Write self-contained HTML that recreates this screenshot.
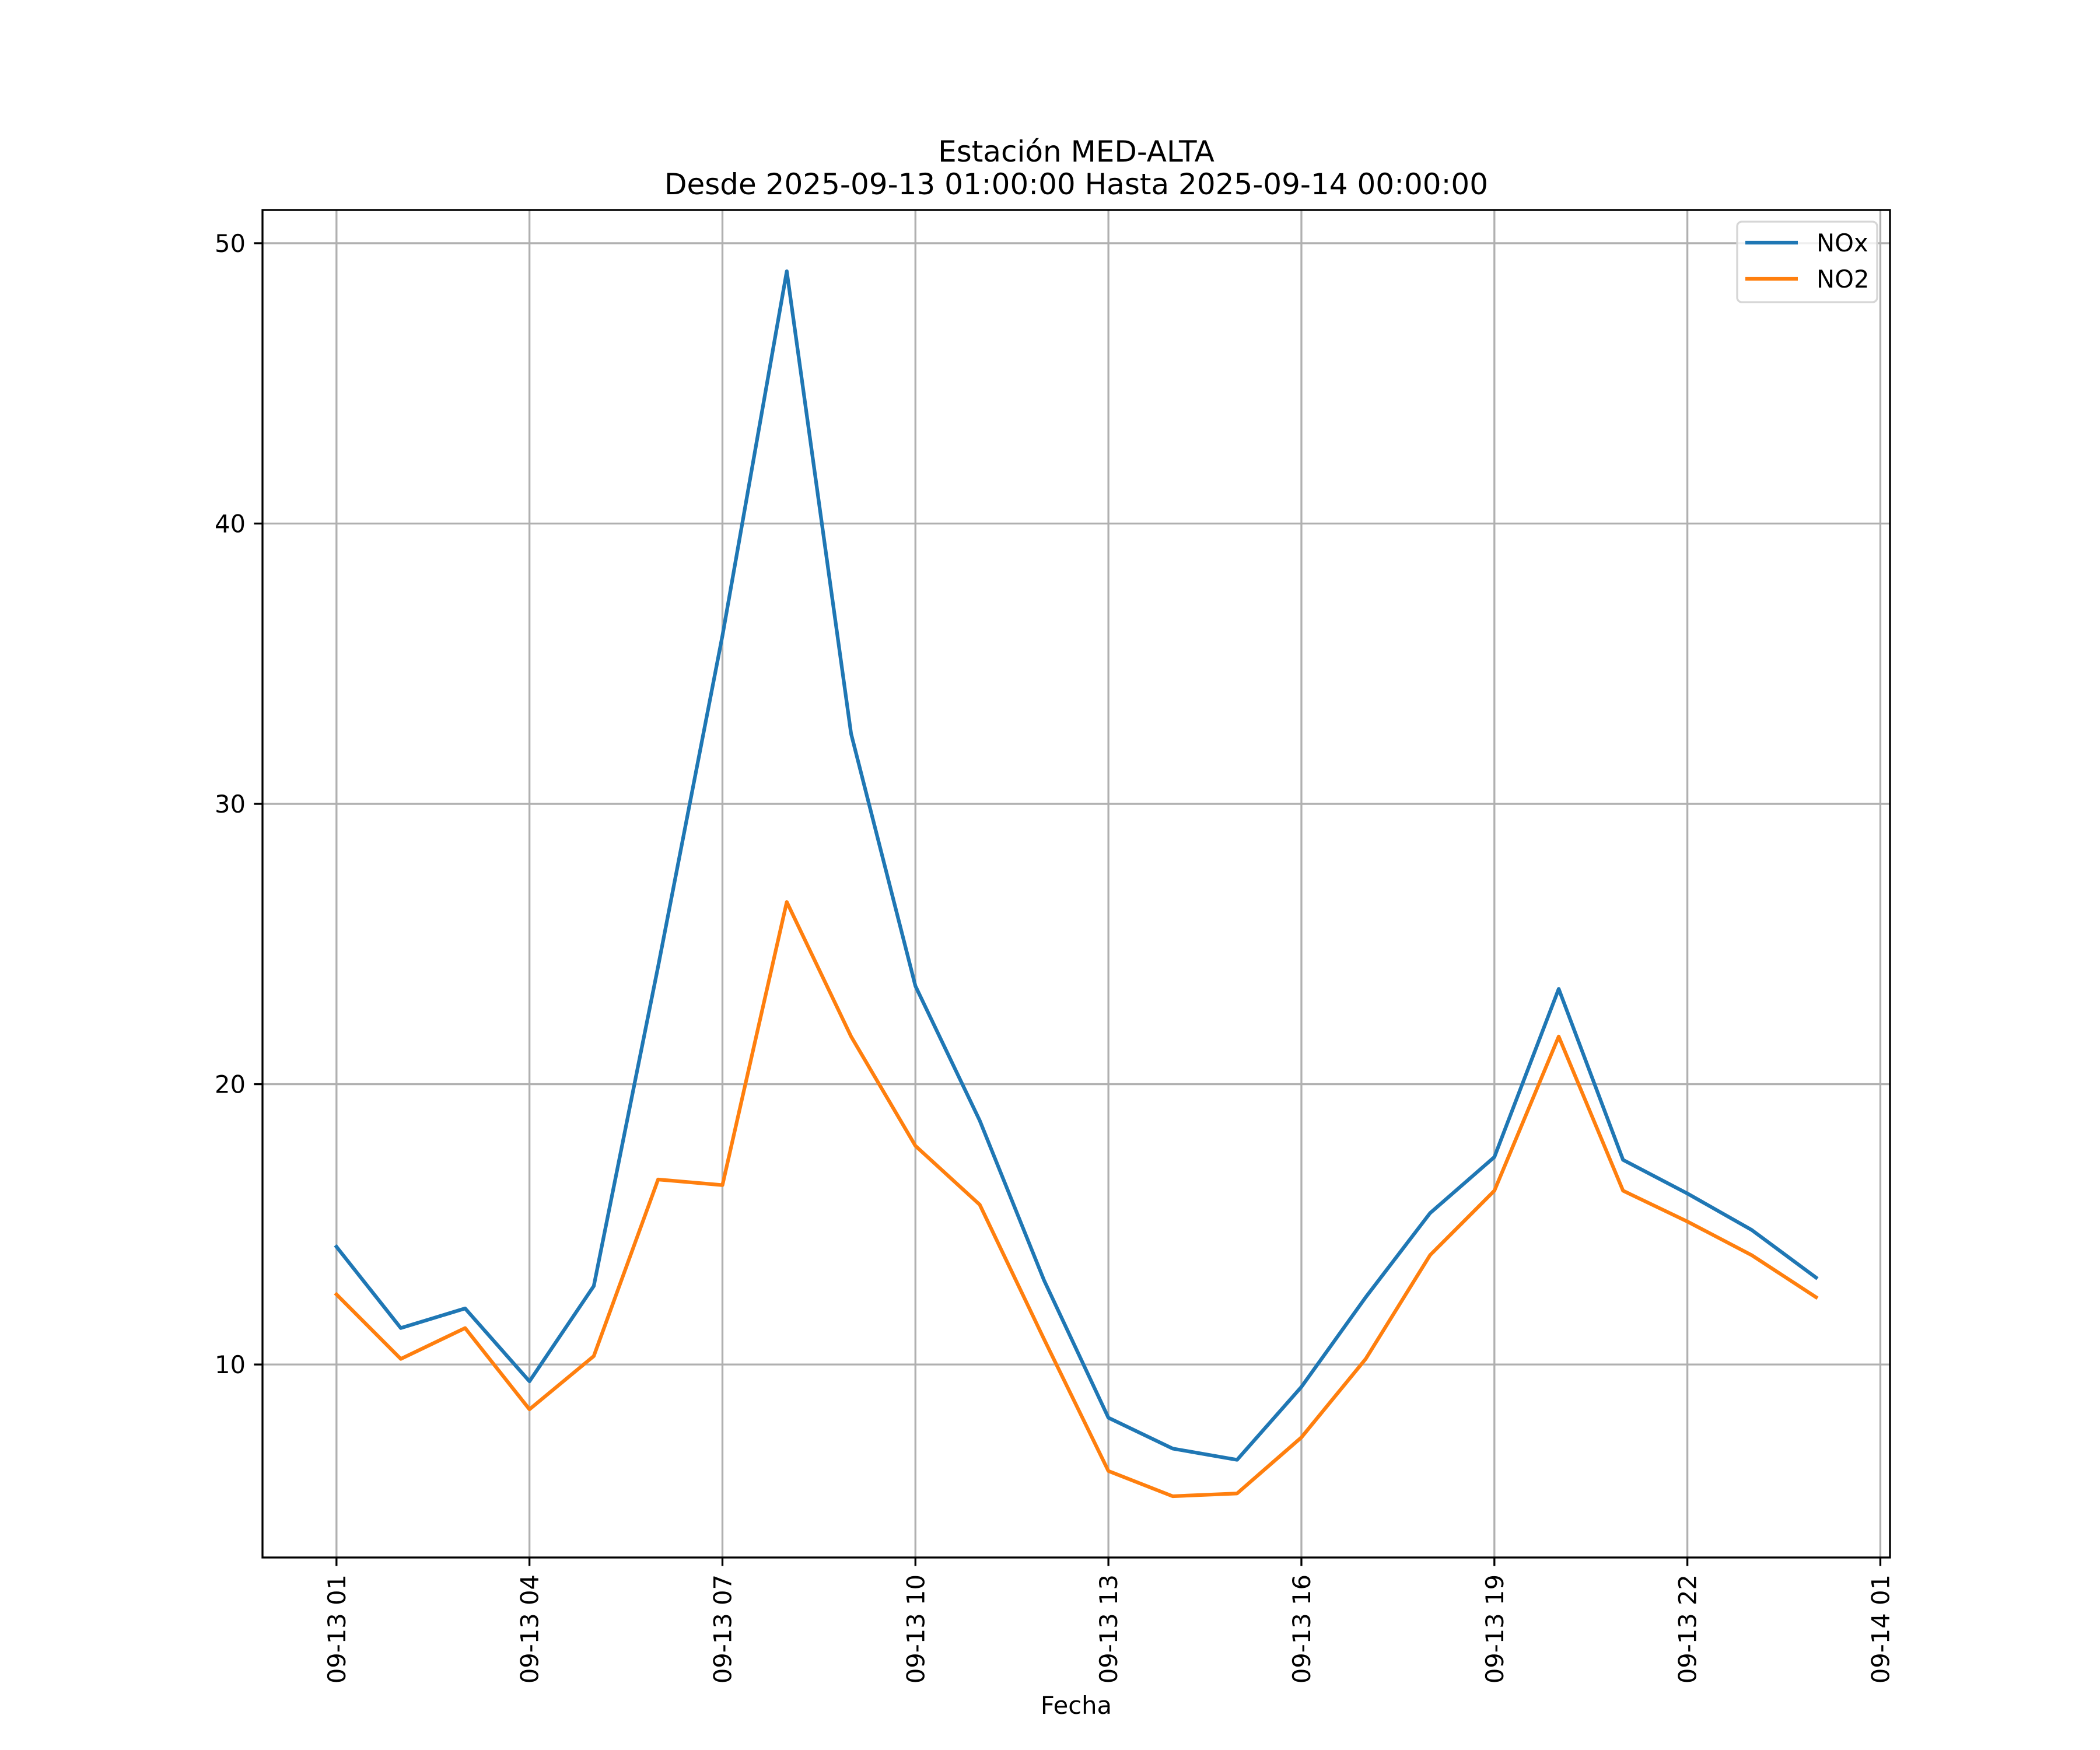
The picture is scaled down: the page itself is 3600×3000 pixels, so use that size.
<!DOCTYPE html>
<html><head><meta charset="utf-8"><style>
html,body{margin:0;padding:0;background:#fff}
svg{display:block;font-family:"DejaVu Sans","Liberation Sans",sans-serif}
</style></head><body>
<svg id="chart" width="3600" height="3000" viewBox="0 0 3600 3000" xmlns="http://www.w3.org/2000/svg">
<rect width="3600" height="3000" fill="#fff"/>
<g id="grid"></g>
<g id="series"></g>
<rect x="450" y="360" width="2790" height="2310" fill="none" stroke="#000" stroke-width="3.33"/>
<g id="ticks"></g>
<text x="1845" y="277" font-size="50" text-anchor="middle">Estación MED-ALTA</text>
<text x="1845" y="333" font-size="50" text-anchor="middle">Desde 2025-09-13 01:00:00 Hasta 2025-09-14 00:00:00</text>
<text x="1845" y="2938" font-size="41.67" text-anchor="middle">Fecha</text>
<g>
<rect x="2978" y="380" width="240" height="138" rx="8" fill="#fff" fill-opacity="0.8" stroke="#d6d6d6" stroke-width="3.33"/>
<line x1="2992" y1="416" x2="3082" y2="416" stroke="#1f77b4" stroke-width="6.25"/>
<text x="3114" y="431" font-size="41.67">NOx</text>
<line x1="2992" y1="478" x2="3082" y2="478" stroke="#ff7f0e" stroke-width="6.25"/>
<text x="3114" y="493" font-size="41.67">NO2</text>
</g>
</svg>
<script>
const hours = [0,1,2,3,4,5,6,7,8,9,10,11,12,13,14,15,16,17,18,19,20,21,22,23];
const noxValues = [14.2,11.3,12.0,9.4,12.8,24.2,36.0,49.0,32.5,23.5,18.7,13.0,8.1,7.0,6.6,9.2,12.4,15.4,17.4,23.4,17.3,16.1,14.8,13.1];
const no2Values = [12.5,10.2,11.3,8.4,10.3,16.6,16.4,26.5,21.7,17.8,15.7,10.9,6.2,5.3,5.4,7.4,10.2,13.9,16.2,21.7,16.2,15.1,13.9,12.4];
const yTicks = [10,20,30,40,50];
const xTickHours = [0,3,6,9,12,15,18,21,24];
const xTickLabels = ["09-13 01","09-13 04","09-13 07","09-13 10","09-13 13","09-13 16","09-13 19","09-13 22","09-14 01"];

const NS = "http://www.w3.org/2000/svg";
const L=450,R=3240,T=360,B=2670;
const all = noxValues.concat(no2Values);
const ymin0=Math.min(...all), ymax0=Math.max(...all), yr=ymax0-ymin0;
const ymin=ymin0-0.05*yr, ymax=ymax0+0.05*yr;
const xmin0=hours[0], xmax0=hours[hours.length-1], xr=xmax0-xmin0;
const xmin=xmin0-0.05*xr, xmax=xmax0+0.05*xr;
function xs(h){return L+(h-xmin)/(xmax-xmin)*(R-L);}
function ys(v){return B-(v-ymin)/(ymax-ymin)*(B-T);}
function mk(tag,attrs,parent){const e=document.createElementNS(NS,tag);for(const k in attrs)e.setAttribute(k,attrs[k]);parent.appendChild(e);return e;}
const grid=document.getElementById('grid'), ticks=document.getElementById('ticks'), series=document.getElementById('series');
yTicks.forEach(v=>{
  const y=ys(v);
  const g=mk('line',{x1:L,x2:R,y1:y,y2:y,stroke:'#b0b0b0','stroke-width':3.33},grid);
  
  
  const t=mk('line',{x1:L-14.6,x2:L,y1:y,y2:y,stroke:'#000','stroke-width':3.33},ticks);
  
  
  const lb=mk('text',{x:L-29,y:y+15,'font-size':41.67,'text-anchor':'end'},ticks);
  lb.textContent=v;
  
  
});
xTickHours.forEach((h,i)=>{
  const x=xs(h);
  const g=mk('line',{x1:x,x2:x,y1:T,y2:B,stroke:'#b0b0b0','stroke-width':3.33},grid);
  
  
  const t=mk('line',{x1:x,x2:x,y1:B,y2:B+14.6,stroke:'#000','stroke-width':3.33},ticks);
  
  
  const lb=mk('text',{transform:`translate(${x+15},${B+29}) rotate(-90)`,'font-size':41.67,'text-anchor':'end'},ticks);
  lb.textContent=xTickLabels[i];
  
  
});
function line(vals,color,name){
  const pts=vals.map((v,i)=>xs(hours[i])+','+ys(v)).join(' ');
  const p=mk('polyline',{points:pts,fill:'none',stroke:color,'stroke-width':6.25,'stroke-linejoin':'round','stroke-linecap':'square'},series);
  
  
}
line(noxValues,'#1f77b4','nox-line');
line(no2Values,'#ff7f0e','no2-line');
</script>
</body></html>
